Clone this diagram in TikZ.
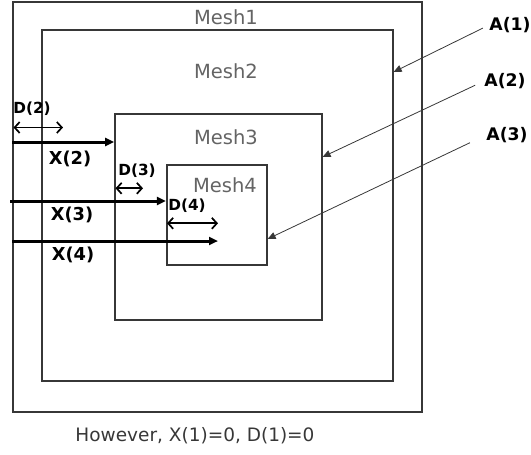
\documentclass[tikz,border=0pt]{standalone}
\usepackage{fontspec}
\setmainfont{DejaVu Sans}
\usetikzlibrary{arrows.meta,positioning}
\definecolor{meshline}{RGB}{55,55,55}
\definecolor{meshtext}{RGB}{100,100,100}

\begin{document}
\begin{tikzpicture}[
  x=1pt, y=-1pt,
  mesh/.style 2 args={draw=meshline, line width=1.8pt, inner sep=0pt, minimum width=#1, minimum height=#2},
  meshlabel/.style={text=meshtext, inner sep=0pt, font=\fontsize{19.5}{22}\selectfont},
  xlabel/.style={inner sep=0pt, font=\bfseries\fontsize{17.8}{20}\selectfont},
  dlabel/.style={inner sep=0pt, font=\bfseries\fontsize{15.3}{17}\selectfont},
  alabel/.style={inner sep=0pt, font=\bfseries\fontsize{17.3}{20}\selectfont},
  xarrow/.style={-{Triangle[length=9pt,width=8pt]}, line width=3pt},
  darrow/.style={{Straight Barb[length=5pt,width=11pt]}-{Straight Barb[length=5pt,width=11pt]}, line width=1.7pt},
  lead/.style={-{Triangle[length=8pt,width=7pt]}, draw=meshline, line width=0.8pt}
]
\useasboundingbox (0,0) rectangle (531,455);

% nested meshes
\node[mesh={409pt}{410pt}] (mesh1) at (217.2,207) {};
\node[mesh={351pt}{351pt}] (mesh2) at (217.2,205.5) {};
\node[mesh={206.7pt}{206pt}] (mesh3) at (218.3,217) {};
\node[mesh={100pt}{100pt}] (mesh4) at (216.7,215) {};

\node[meshlabel] (m1) at (226,17) {Mesh1};
\node[meshlabel] (m2) at (226,71) {Mesh2};
\node[meshlabel] (m3) at (226,137) {Mesh3};
\node[meshlabel] (m4) at (225,185) {Mesh4};

% offsets X
\coordinate (x2s) at (12,142);
\coordinate (x3s) at (10,201);
\coordinate (x4s) at (12,241);
\coordinate (x4e) at (218,241);
\draw[xarrow] (x2s) -- (x2s -| mesh3.west);
\draw[xarrow] (x3s) -- (x3s -| mesh4.west);
\draw[xarrow] (x4s) -- (x4e);

\node[xlabel] (x2) at (70,159) {X(2)};
\node[xlabel] (x3) at (72,215) {X(3)};
\node[xlabel] (x4) at (73,255) {X(4)};

% widths D
\coordinate (d2s) at (13.5,127.5);
\coordinate (d2e) at (63,127.5);
\coordinate (d3s) at (115.5,188.3);
\coordinate (d3e) at (143,188.3);
\coordinate (d4s) at (167,223.3);
\coordinate (d4e) at (218,223.3);
\draw[darrow] (d2s) -- (d2e);
\draw[darrow] (d3s) -- (d3e);
\draw[darrow] (d4s) -- (d4e);

\node[dlabel] (d2) at (32,109) {D(2)};
\node[dlabel] (d3) at (137,171) {D(3)};
\node[dlabel] (d4) at (187,206) {D(4)};

% areas A
\node[alabel] (a1) at (510,25) {A(1)};
\node[alabel] (a2) at (505,81) {A(2)};
\node[alabel] (a3) at (507,135) {A(3)};

\coordinate (t1) at (mesh2.east |- 0,72);
\coordinate (t2) at (mesh3.east |- 0,157);
\coordinate (t3) at (mesh4.east |- 0,239);
\draw[lead, shorten <=7pt] (a1.west) -- (t1);
\draw[lead, shorten <=10pt] (a2.west) -- (t2);
\draw[lead, shorten <=18pt] (a3.west) -- (t3);

\node[meshlabel, text=meshline, font=\fontsize{18.5}{21}\selectfont] (note) at (195,436) {However, X(1)=0, D(1)=0};
\end{tikzpicture}
\end{document}
